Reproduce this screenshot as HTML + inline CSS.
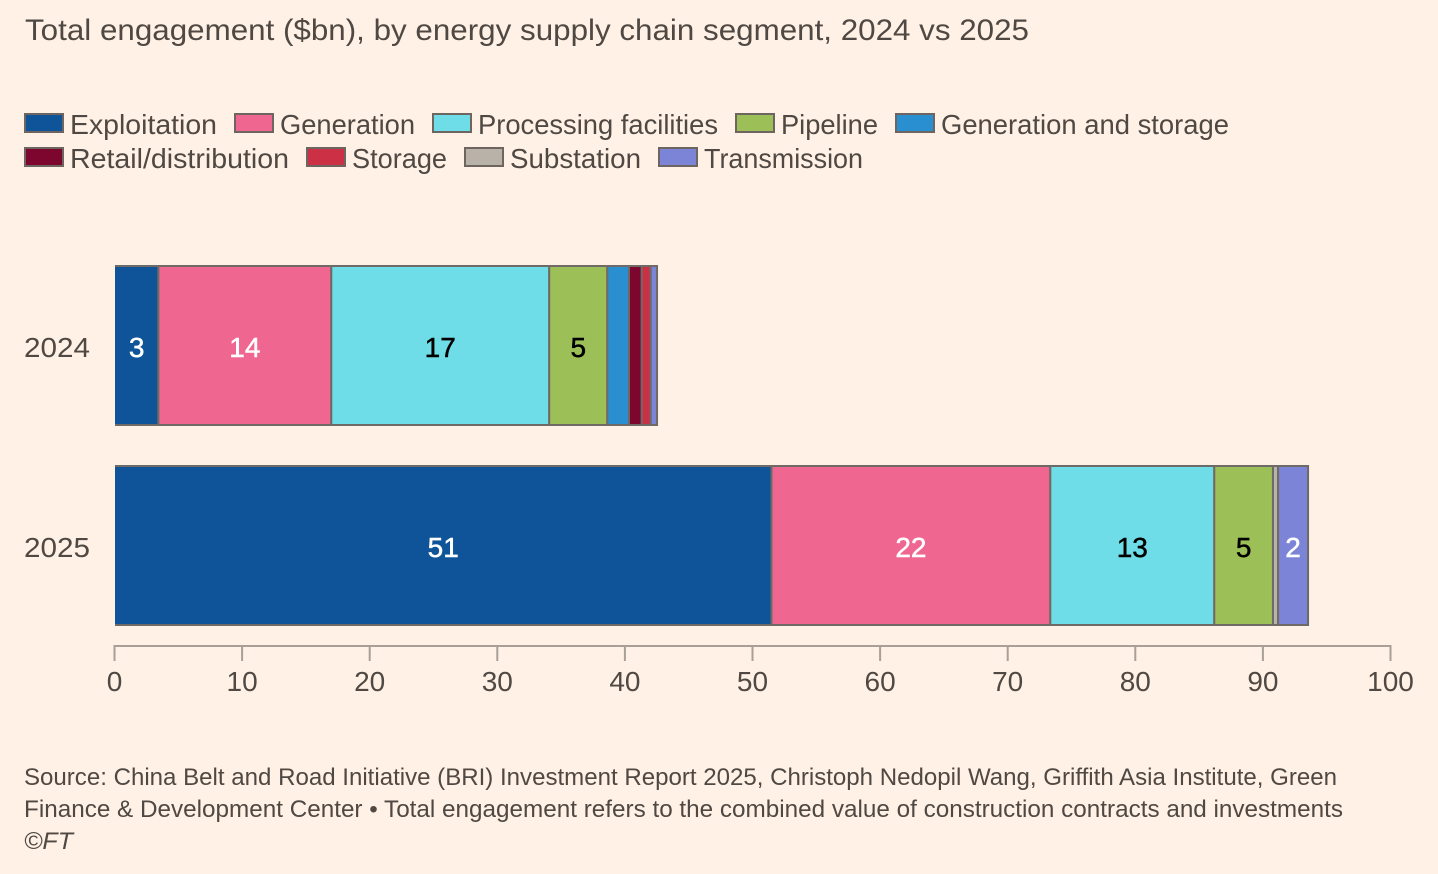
<!DOCTYPE html>
<html lang="en">
<head>
<meta charset="utf-8">
<title>Total engagement by energy supply chain segment</title>
<style>
html,body{margin:0;padding:0;background:#fff1e5;}
svg{display:block;}
text{font-family:"Liberation Sans",sans-serif;fill:#4f4843;}
</style>
</head>
<body>
<svg id="chart" width="1438" height="874" viewBox="0 0 1438 874" xmlns="http://www.w3.org/2000/svg">
  <rect x="0" y="0" width="1438" height="874" fill="#fff1e5"/>
  <text x="25" y="40" font-size="30" textLength="1004" lengthAdjust="spacingAndGlyphs">Total engagement ($bn), by energy supply chain segment, 2024 vs 2025</text>
  <g id="legend"></g>
  <g id="bars"></g>
  <g id="axis"></g>
  <text x="24" y="785" font-size="24" textLength="1313" lengthAdjust="spacingAndGlyphs">Source: China Belt and Road Initiative (BRI) Investment Report 2025, Christoph Nedopil Wang, Griffith Asia Institute, Green</text>
  <text x="24" y="817" font-size="24" textLength="1319" lengthAdjust="spacingAndGlyphs">Finance &amp; Development Center • Total engagement refers to the combined value of construction contracts and investments</text>
  <text x="24" y="849" font-size="24" font-style="italic" textLength="49" lengthAdjust="spacingAndGlyphs">©FT</text>
</svg>
<script>
const categories = ['2024', '2025'];
const segments = ['Exploitation', 'Generation', 'Processing facilities', 'Pipeline', 'Generation and storage', 'Retail/distribution', 'Storage', 'Substation', 'Transmission'];
const values2024 = [3.4, 13.55, 17.08, 4.55, 1.7, 1.0, 0.7, 0, 0.5];
const values2025 = [51.45, 21.85, 12.85, 4.6, 0, 0, 0, 0.4, 2.35];
const labels2024 = ['3', '14', '17', '5', '', '', '', '', ''];
const labels2025 = ['51', '22', '13', '5', '', '', '', '', '2'];
const ticks = [0, 10, 20, 30, 40, 50, 60, 70, 80, 90, 100];
const colors = ['#0f5499', '#ef6690', '#6fdde8', '#9dbf57', '#2a8fd0', '#7d062e', '#cc3045', '#b9b2a8', '#7b84d6'];
const labelColors = ['#ffffff', '#ffffff', '#000000', '#000000', '#ffffff', '#ffffff', '#ffffff', '#000000', '#ffffff'];
const legendWidths = [147, 135, 240, 97, 288, 219, 95, 131, 159];

const NS = 'http://www.w3.org/2000/svg';
const X0 = 115, X1 = 1391, BAR_H = 159;
const xScale = v => X0 + (v / 100) * (X1 - X0);
const yBand = i => 266 + i * 200;

function make(parent, tag, attrs) {
  const el = document.createElementNS(NS, tag);
  for (const k in attrs) el.setAttribute(k, attrs[k]);
  parent.appendChild(el);
  return el;
}

const legendG = document.getElementById('legend');
const legendRows = [[0, 1, 2, 3, 4], [5, 6, 7, 8]];
legendRows.forEach((row, r) => {
  let x = 24;
  row.forEach(s => {
    const y = 114 + r * 34;
    const swatch = make(legendG, 'rect', {x: x + 1, y: y, width: 38, height: 18, fill: colors[s], stroke: '#6f6560', 'stroke-width': 2});
    
    
    const t = make(legendG, 'text', {x: x + 46, y: y + 20, 'font-size': 28, textLength: legendWidths[s], lengthAdjust: 'spacingAndGlyphs'});
    t.textContent = segments[s];
    
    
    x += 46 + legendWidths[s] + 17;
  });
});

const barsG = document.getElementById('bars');
const seriesValues = [values2024, values2025];
const seriesLabels = [labels2024, labels2025];
categories.forEach((cat, i) => {
  const y = yBand(i);
  const c = make(barsG, 'text', {x: 24, y: y + 91, 'font-size': 28, textLength: 66, lengthAdjust: 'spacingAndGlyphs'});
  c.textContent = cat;
  
  
  let cum = 0;
  seriesValues[i].forEach((v, s) => {
    if (v <= 0) return;
    const x0 = xScale(cum), x1 = xScale(cum + v), w = x1 - x0;
    const attrs = {x: x0, y: y, width: w, height: BAR_H, fill: colors[s], stroke: '#6f6a66', 'stroke-width': 2};
    if (cum === 0) attrs['stroke-dasharray'] = (2 * w + BAR_H) + ' ' + BAR_H;
    const seg = make(barsG, 'rect', attrs);
    
    
    cum += v;
  });
  cum = 0;
  seriesValues[i].forEach((v, s) => {
    if (seriesLabels[i][s]) {
      const lab = make(barsG, 'text', {x: xScale(cum + v / 2), y: y + 91, 'font-size': 28, 'text-anchor': 'middle', style: 'fill:' + labelColors[s] + ';stroke:' + labelColors[s] + ';stroke-width:0.5'});
      lab.textContent = seriesLabels[i][s];
      
      
    }
    cum += v;
  });
});

const axisG = document.getElementById('axis');
const axisLine = make(axisG, 'line', {x1: xScale(0) - 1.5, x2: xScale(100) + 0.5, y1: 646, y2: 646, stroke: '#a89f96', 'stroke-width': 2});


ticks.forEach(t => {
  const x = xScale(t) - 0.5;
  const tick = make(axisG, 'line', {x1: x, x2: x, y1: 645, y2: 661, stroke: '#a89f96', 'stroke-width': 2});
  
  
  const lab = make(axisG, 'text', {x: x, y: 691, 'font-size': 28, 'text-anchor': 'middle'});
  lab.textContent = String(t);
  
  
});
</script>
</body>
</html>
